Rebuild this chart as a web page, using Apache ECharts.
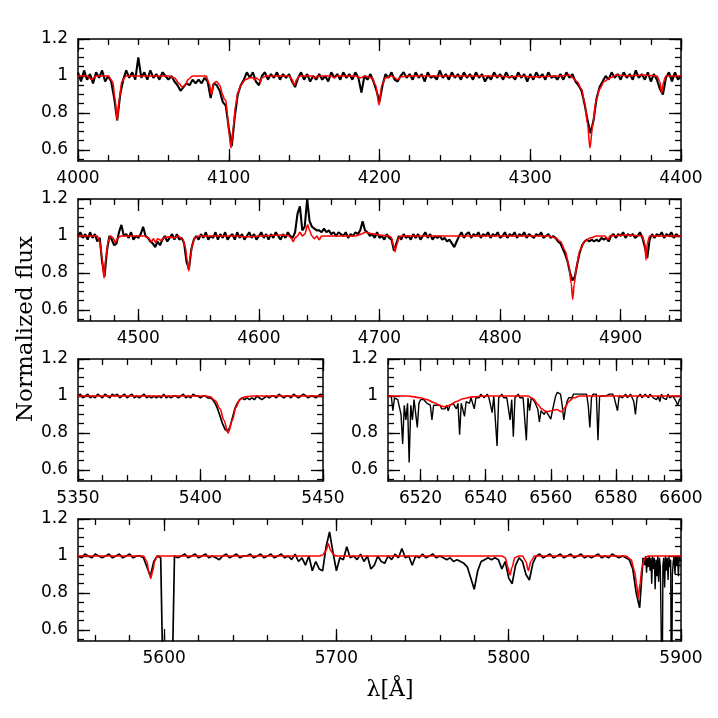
<!DOCTYPE html>
<html>
<head>
<meta charset="utf-8">
<script src="https://cdn.jsdelivr.net/npm/echarts@6/dist/echarts.min.js"></script>
<style>
  html, body { margin: 0; padding: 0; background: #fff; }
  #chart { width: 718px; height: 718px; }
</style>
</head>
<body>
<div id="chart"></div>
<script>
// y axis (same for every panel)
const yMin = 0.54, yMax = 1.2;
const yLabels = [0.6, 0.8, 1, 1.2];
const yMinor = [0.55, 0.6, 0.65, 0.7, 0.75, 0.8, 0.85, 0.9, 0.95, 1, 1.05, 1.1, 1.15, 1.2];

// x ticks per panel
const xLabelsP1 = [4000, 4100, 4200, 4300, 4400];
const xMinorP1 = [4000, 4020, 4040, 4060, 4080, 4100, 4120, 4140, 4160, 4180, 4200,
  4220, 4240, 4260, 4280, 4300, 4320, 4340, 4360, 4380, 4400];
const xLabelsP2 = [4500, 4600, 4700, 4800, 4900];
const xMinorP2 = [4460, 4480, 4500, 4520, 4540, 4560, 4580, 4600, 4620, 4640, 4660, 4680,
  4700, 4720, 4740, 4760, 4780, 4800, 4820, 4840, 4860, 4880, 4900, 4920, 4940];
const xLabelsP3 = [5350, 5400, 5450];
const xMinorP3 = [5350, 5360, 5370, 5380, 5390, 5400, 5410, 5420, 5430, 5440, 5450];
const xLabelsP4 = [6520, 6540, 6560, 6580, 6600];
const xMinorP4 = [6510, 6515, 6520, 6525, 6530, 6535, 6540, 6545, 6550, 6555, 6560,
  6565, 6570, 6575, 6580, 6585, 6590, 6595, 6600];
const xLabelsP5 = [5600, 5700, 5800, 5900];
const xMinorP5 = [5560, 5580, 5600, 5620, 5640, 5660, 5680, 5700, 5720, 5740, 5760,
  5780, 5800, 5820, 5840, 5860, 5880, 5900];

// observed spectrum (black), flux sampled every 2 A from 4000 A
const obsP1 = [
  1.02,0.97,1.03,0.98,1.01,0.96,1.02,0.99,1.03,0.97,
  1.00,0.97,0.88,0.76,0.90,0.98,1.03,0.99,1.02,0.98,
  1.10,0.99,1.02,0.98,1.03,0.99,1.01,0.98,1.02,1.00,
  0.98,1.00,0.97,0.95,0.92,0.94,0.96,0.95,0.98,0.96,
  0.98,0.96,0.99,0.97,0.88,0.96,0.95,0.92,0.86,0.84,
  0.72,0.62,0.78,0.90,0.95,0.98,1.02,0.99,1.02,0.97,
  0.95,1.00,1.02,0.98,1.01,0.99,1.02,0.98,1.01,0.99,
  1.01,0.97,0.94,0.99,1.02,0.98,1.01,0.97,1.00,0.98,
  1.01,0.98,1.00,0.97,1.02,0.99,1.01,0.98,1.02,0.99,
  1.01,0.98,1.02,0.99,0.91,1.00,0.98,1.01,0.97,0.92,
  0.86,0.95,1.01,0.99,1.02,0.98,0.97,1.00,1.02,0.99,
  1.01,0.98,1.02,0.99,1.01,0.97,1.02,0.99,1.00,0.98,
  1.03,0.99,1.01,0.98,1.02,0.99,1.01,0.98,1.02,0.99,
  1.01,0.98,1.02,0.99,1.01,0.97,1.00,0.98,1.02,0.99,
  1.01,0.98,1.02,0.99,1.00,0.98,1.02,0.99,1.01,0.97,
  1.01,0.98,1.02,0.99,1.01,0.98,1.02,0.99,1.00,0.98,
  1.01,0.98,1.02,0.99,1.01,0.97,0.95,0.92,0.85,0.76,
  0.69,0.76,0.88,0.94,0.97,1.00,0.98,1.02,0.99,1.01,
  0.98,1.02,0.99,1.01,0.98,1.03,0.99,1.01,0.98,1.02,
  0.97,1.01,0.98,0.93,0.90,0.99,1.02,0.97,1.02,0.98,
  1.00
];
// model fit (red), [wavelength, flux]
const fitP1 = [
  [4000,1.0],[4006,1.0],[4009,0.98],[4012,1.0],[4020,1.0],[4023,0.97],[4024.5,0.88],[4026,0.76],
  [4027.5,0.88],[4029,0.97],[4032,1.0],[4060,1.0],[4064,0.99],[4067,0.96],[4069,0.94],[4071,0.95],
  [4073,0.98],[4076,1.0],[4085,1.0],[4087,0.96],[4088.5,0.9],[4090,0.96],[4092,0.97],[4094,0.95],
  [4096,0.9],[4097,0.875],[4098,0.87],[4099,0.8],[4100,0.7],[4101.5,0.61],[4103,0.72],[4104.5,0.84],
  [4106,0.91],[4108,0.95],[4111,0.98],[4114,0.99],[4116,0.99],[4117,0.98],[4118,0.99],[4120,0.98],
  [4121,0.965],[4122,0.99],[4125,1.0],[4140,1.0],[4142,0.98],[4143.5,0.95],[4145,0.98],[4147,1.0],
  [4155,1.0],[4157,0.99],[4159,1.0],[4168,1.0],[4170,0.99],[4172,1.0],[4184,1.0],[4188,0.99],
  [4190,1.0],[4195,0.99],[4197.5,0.95],[4199.7,0.843],[4201.5,0.95],[4204,0.99],[4208,1.0],
  [4210,0.99],[4212,0.98],[4214,0.995],[4218,1.0],[4280,1.0],[4285,0.995],[4295,1.0],[4300,0.995],
  [4320,1.0],[4326,1.005],[4328,0.99],[4331,0.97],[4334,0.93],[4336,0.86],[4338,0.74],[4339.6,0.61],
  [4341.5,0.74],[4343.5,0.86],[4346,0.93],[4349,0.97],[4353,0.99],[4357,1.005],[4365,1.0],
  [4375,1.005],[4384,1.0],[4386,0.97],[4387.2,0.907],[4388.5,0.97],[4390,1.0],[4400,1.0]
];

// observed, every 2 A from 4450 A
const obsP2 = [
  1.00,1.02,0.99,1.01,0.98,1.02,0.99,1.01,0.97,0.99,
  0.86,0.78,0.92,1.00,0.98,0.95,0.96,1.02,1.06,1.00,
  1.01,0.99,1.02,0.98,1.00,0.99,1.01,1.05,1.00,0.99,
  0.97,0.96,0.94,0.97,0.95,0.98,1.00,0.97,0.99,1.01,
  0.98,1.01,0.98,0.99,0.96,0.86,0.82,0.93,0.98,1.00,
  0.98,1.01,0.99,1.02,0.98,1.00,0.99,1.02,0.98,1.01,
  0.99,1.02,0.98,1.00,1.01,0.98,1.02,0.99,1.01,0.98,
  1.00,1.02,0.99,1.01,0.98,1.00,1.02,0.99,1.01,0.98,
  1.01,0.99,1.02,1.00,0.98,1.01,0.99,1.02,1.00,0.99,
  1.02,1.12,1.16,1.03,1.05,1.20,1.08,1.05,1.04,1.03,
  1.03,1.02,1.04,1.02,1.03,1.01,1.02,1.00,1.02,1.01,
  1.00,1.02,0.99,1.01,1.00,1.02,1.01,1.03,1.08,1.03,
  1.02,1.00,1.01,0.99,1.02,0.99,1.00,0.98,1.01,0.99,
  0.98,0.92,0.96,1.00,0.98,1.01,0.99,1.00,0.98,1.01,
  0.99,1.01,0.98,1.00,1.02,0.99,1.01,0.98,1.00,0.99,
  1.00,0.98,0.99,0.97,0.98,0.96,0.94,0.97,1.00,1.02,
  0.99,1.01,1.02,0.99,1.01,1.00,1.02,0.99,1.01,1.00,
  1.02,0.99,1.01,1.00,1.02,0.99,1.00,1.02,0.99,1.01,
  1.00,1.02,0.99,1.01,1.00,1.02,0.99,1.01,1.00,0.99,
  1.01,1.00,1.02,0.99,1.00,1.01,0.99,1.00,0.99,0.97,
  0.96,0.93,0.90,0.86,0.80,0.76,0.78,0.85,0.91,0.95,
  0.97,0.98,0.97,0.98,0.97,0.98,0.97,0.99,0.98,0.99,
  0.97,1.00,1.01,0.99,1.01,1.00,1.02,0.99,1.01,1.00,
  1.01,0.99,1.00,1.02,0.99,0.94,0.88,0.98,1.01,0.99,
  1.01,1.00,1.02,0.99,1.01,1.00,1.02,0.99,1.01,1.00,
  1.00
];
const fitP2 = [
  [4450,1.0],[4466,1.0],[4468,0.97],[4470,0.88],[4471.6,0.771],[4473,0.88],[4475,0.97],[4477,1.0],
  [4479,0.99],[4481,0.965],[4483,0.99],[4486,1.0],[4505,1.0],[4508,0.99],[4511,0.97],[4512.5,0.985],
  [4514.5,0.965],[4516,0.985],[4519,0.975],[4521,0.99],[4525,0.995],[4530,0.99],[4533,1.0],
  [4537,0.98],[4539,0.94],[4540.5,0.87],[4541.8,0.812],[4543,0.88],[4545,0.96],[4547,0.99],
  [4550,1.0],[4580,1.0],[4590,0.995],[4600,1.0],[4620,1.005],[4625,1.0],[4627,0.985],[4628.5,0.97],
  [4630,0.99],[4632,1.0],[4634,1.02],[4636,1.0],[4638,1.01],[4640.5,1.06],[4642,1.03],[4644,1.0],
  [4646,0.985],[4648,1.0],[4650,0.98],[4652,1.0],[4680,1.0],[4685,1.01],[4688,1.02],[4692,1.015],
  [4696,1.01],[4700,1.005],[4708,1.0],[4710,0.99],[4711.5,0.95],[4712.9,0.915],[4714.2,0.95],
  [4716,0.99],[4718,1.0],[4840,1.0],[4846,0.99],[4850,0.97],[4854,0.92],[4857,0.84],[4859,0.74],
  [4860.2,0.658],[4861.5,0.74],[4863.5,0.84],[4866,0.92],[4870,0.97],[4875,0.99],[4880,1.0],
  [4887,1.0],[4889.5,0.98],[4891,1.0],[4905,1.005],[4918,1.0],[4920,0.96],[4921,0.87],[4922,0.96],
  [4924,1.0],[4950,1.0]
];

// observed, every 1 A from 5350 A
const obsP3 = [
  1.00,1.01,0.99,1.00,1.01,0.99,1.00,0.99,1.01,1.00,
  0.99,1.01,1.00,0.99,1.01,1.00,1.01,0.99,1.00,1.01,
  0.99,1.00,1.01,0.99,1.00,0.99,1.00,1.01,0.99,1.00,
  0.99,1.00,0.99,1.00,0.99,1.01,0.99,1.00,0.99,1.00,
  1.00,0.99,1.00,1.01,0.99,1.00,0.99,1.01,1.00,1.00,
  0.99,1.00,1.00,0.99,0.99,0.98,0.96,0.93,0.89,0.85,
  0.82,0.81,0.83,0.88,0.93,0.96,0.98,0.99,0.98,0.99,
  0.98,0.99,0.98,1.00,0.99,0.98,0.99,1.00,0.99,1.00,
  1.00,0.99,1.01,1.00,0.99,1.00,1.00,0.99,1.01,1.00,
  0.99,1.00,1.01,1.00,0.99,1.00,1.00,0.99,1.00,1.01,
  1.00
];
const fitP3 = [
  [5350,1.0],[5402,1.0],[5404,0.995],[5406,0.975],[5408,0.93],[5409.5,0.87],[5411.3,0.80],
  [5413,0.87],[5414.5,0.94],[5416,0.98],[5418,0.995],[5421,1.0],[5450,1.0]
];

// observed, every 0.5 A from 6510 A
const obsP4 = [
  1.00,0.99,1.00,0.92,0.99,1.00,0.98,0.99,0.90,0.74,
  0.95,0.87,0.96,0.64,0.95,0.87,0.98,0.97,0.83,0.96,
  0.98,0.97,0.98,0.97,0.96,0.97,0.95,0.87,0.95,0.96,
  0.95,0.94,0.95,0.93,0.94,0.93,0.95,0.92,0.95,0.94,
  0.96,0.95,0.93,0.96,0.79,0.96,0.97,0.89,0.97,0.98,
  0.96,0.99,0.98,0.93,0.99,1.00,0.99,1.01,1.00,0.99,
  1.00,1.01,0.99,1.00,0.91,1.00,0.99,0.73,0.99,1.00,
  1.01,0.99,1.00,0.99,1.00,0.87,0.98,0.78,0.99,1.00,
  1.01,0.99,1.00,0.99,1.00,0.76,0.99,0.92,0.99,0.98,
  0.97,0.95,0.93,0.86,0.92,0.91,0.90,0.92,0.91,0.89,
  0.875,0.92,0.96,1.00,1.02,1.03,1.01,0.95,0.87,0.93,
  0.97,0.99,1.00,0.99,1.01,1.02,1.01,1.02,1.01,1.02,
  1.01,1.00,1.01,0.95,0.83,0.99,1.01,1.00,1.01,0.76,
  1.00,1.01,1.00,1.01,1.00,0.99,1.01,1.00,1.01,0.99,
  1.00,0.92,1.00,1.01,0.99,1.00,1.01,0.99,1.00,1.01,
  0.99,0.97,0.90,0.99,1.00,1.01,0.99,1.00,1.01,1.00,
  0.99,1.01,1.00,0.99,1.00,0.98,1.00,0.97,1.01,0.99,
  1.00,0.98,1.01,0.99,0.98,1.00,0.99,0.97,0.95,0.98,
  0.99
];
const fitP4 = [
  [6510,1.0],[6516,1.0],[6520,0.99],[6522,0.98],[6524,0.965],[6526,0.948],[6527.5,0.942],
  [6529,0.95],[6531,0.97],[6533,0.985],[6536,0.995],[6540,1.0],[6553,1.0],[6554.6,0.985],
  [6556,0.955],[6557.2,0.93],[6558.7,0.915],[6560.3,0.92],[6561.8,0.927],[6563.3,0.915],
  [6564.5,0.94],[6565.5,0.97],[6567,0.99],[6569,1.0],[6600,1.0]
];

// observed, every 2 A from 5550 A to 5878 A
const obsP5 = [
  1.00,0.99,1.01,1.00,0.99,1.01,1.00,0.99,1.00,1.01,
  0.99,1.00,1.01,0.99,1.00,1.01,0.99,1.00,1.00,0.99,
  0.94,0.89,0.97,1.00,0.99,0.00,0.00,0.00,1.00,0.99,
  1.00,1.01,0.99,1.00,1.01,0.99,1.00,1.01,0.99,1.00,
  0.99,0.98,1.00,1.01,0.99,1.00,1.01,0.99,1.00,1.00,
  1.01,0.99,1.00,1.01,0.99,1.00,1.01,0.99,1.00,1.01,
  0.99,1.00,0.98,1.01,0.97,0.99,0.95,1.00,0.92,0.97,
  0.93,0.92,1.05,1.13,1.02,0.92,0.99,0.98,1.05,0.99,
  1.00,0.98,1.01,0.97,1.00,0.93,0.95,1.00,0.97,0.96,
  1.00,0.98,1.01,0.99,1.04,0.99,1.00,0.95,1.00,0.99,
  1.01,0.99,1.00,1.01,0.99,1.00,0.99,0.98,0.99,0.97,
  0.98,0.97,0.96,0.94,0.88,0.82,0.92,0.97,0.98,0.99,
  0.98,0.99,0.98,0.93,0.97,0.88,0.85,0.95,0.99,0.97,
  0.90,0.87,0.96,1.00,1.01,0.99,1.00,1.01,0.99,1.00,
  1.01,0.99,1.00,1.01,0.99,1.00,1.01,0.99,1.00,0.99,
  1.00,1.01,0.99,1.00,0.99,1.01,1.00,0.99,1.00,0.99,
  0.98,0.93,0.80,0.72,0.99
];
// observed telluric band, every 0.5 A from 5878 A
const obsP5Tail = [
  0.99,1.00,0.95,1.00,0.91,0.99,0.94,1.00,0.92,0.99,
  0.85,1.00,0.93,0.99,0.82,0.98,0.89,1.00,0.86,0.99,
  0.94,0.60,0.00,0.95,0.99,0.83,1.00,0.92,0.99,0.87,
  1.00,0.94,0.98,0.00,0.90,0.97,1.00,0.90,1.00,0.95,
  1.00,0.89,1.00,0.98,0.97
];
const fitP5 = [
  [5550,1.0],[5588,1.0],[5590,0.97],[5591,0.92],[5592.2,0.879],[5593.4,0.92],[5594.5,0.97],
  [5596,1.0],[5690,1.0],[5692,1.005],[5694,1.03],[5695.3,1.066],[5696.6,1.03],[5698.5,1.005],
  [5700,1.0],[5796,1.0],[5798,0.99],[5799.5,0.94],[5800.7,0.897],[5802,0.94],[5803.5,0.99],
  [5806,1.0],[5808,1.0],[5810,0.97],[5811.4,0.92],[5812.8,0.97],[5815,1.0],[5868,1.0],[5871,0.98],
  [5873,0.92],[5874.2,0.85],[5875.2,0.771],[5876.2,0.85],[5877.4,0.94],[5879,0.99],[5881,1.0],
  [5900,1.0]
];

const panels = [
  {rect: [78, 39, 603, 122], range: [4000, 4400], labels: xLabelsP1, minor: xMinorP1, fit: fitP1,
   obs: [{flux: obsP1, start: 4000, step: 2, width: 2.1}]},
  {rect: [78, 199, 603, 122], range: [4450, 4950], labels: xLabelsP2, minor: xMinorP2, fit: fitP2,
   obs: [{flux: obsP2, start: 4450, step: 2, width: 2.1}]},
  {rect: [78, 359, 245, 122], range: [5350, 5450], labels: xLabelsP3, minor: xMinorP3, fit: fitP3,
   obs: [{flux: obsP3, start: 5350, step: 1, width: 1.7}]},
  {rect: [388, 359, 293, 122], range: [6510, 6600], labels: xLabelsP4, minor: xMinorP4, fit: fitP4,
   obs: [{flux: obsP4, start: 6510, step: 0.5, width: 1.4}]},
  {rect: [78, 519, 603, 122], range: [5550, 5900], labels: xLabelsP5, minor: xMinorP5, fit: fitP5,
   obs: [{flux: obsP5, start: 5550, step: 2, width: 1.7}, {flux: obsP5Tail, start: 5878, step: 0.5, width: 1.4}]}
];

const frame = {show: true, onZero: false, lineStyle: {color: '#000', width: 1.5}};
const noLine = {show: false, onZero: false};
const tickStyle = {color: '#000', width: 1.3};
const labelStyle = {color: '#000', fontFamily: 'DejaVu Sans', fontSize: 17, formatter: v => String(v)};

const option = {
  animation: false,
  backgroundColor: '#fff',
  grid: [],
  xAxis: [],
  yAxis: [],
  series: [],
  graphic: [
    {type: 'text', x: 26, y: 329, rotation: Math.PI / 2,
     style: {text: 'Normalized flux', font: '23px "DejaVu Serif"', fill: '#000', align: 'center', verticalAlign: 'middle'}},
    {type: 'text', x: 390, y: 690,
     style: {text: 'λ[Å]', font: '22px "DejaVu Serif"', fill: '#000', align: 'center', verticalAlign: 'middle'}}
  ]
};

panels.forEach((p, k) => {
  const [left, top, width, height] = p.rect;
  // grid A holds the data and minor ticks, grid B lies on top with the major ticks
  option.grid.push({left, top, width, height}, {left, top, width, height});
  const gA = 2 * k, gB = 2 * k + 1;
  const xBase = {type: 'value', min: p.range[0], max: p.range[1], splitLine: {show: false}};
  const yBase = {type: 'value', min: yMin, max: yMax, splitLine: {show: false}};

  option.xAxis.push(
    {...xBase, gridIndex: gA, position: 'bottom', axisLine: frame,
     axisTick: {inside: true, length: 6, customValues: p.minor, lineStyle: tickStyle},
     axisLabel: {...labelStyle, customValues: p.labels, margin: 9}},
    {...xBase, gridIndex: gA, position: 'top', axisLine: frame,
     axisTick: {inside: true, length: 6, customValues: p.minor, lineStyle: tickStyle},
     axisLabel: {show: false}},
    {...xBase, gridIndex: gB, position: 'bottom', axisLine: noLine,
     axisTick: {inside: true, length: 12, customValues: p.labels, lineStyle: tickStyle},
     axisLabel: {show: false}},
    {...xBase, gridIndex: gB, position: 'top', axisLine: noLine,
     axisTick: {inside: true, length: 12, customValues: p.labels, lineStyle: tickStyle},
     axisLabel: {show: false}}
  );
  option.yAxis.push(
    {...yBase, gridIndex: gA, position: 'left', axisLine: frame,
     axisTick: {inside: true, length: 6, customValues: yMinor, lineStyle: tickStyle},
     axisLabel: {...labelStyle, customValues: yLabels, margin: 10}},
    {...yBase, gridIndex: gA, position: 'right', axisLine: frame,
     axisTick: {inside: true, length: 6, customValues: yMinor, lineStyle: tickStyle},
     axisLabel: {show: false}},
    {...yBase, gridIndex: gB, position: 'left', axisLine: noLine,
     axisTick: {inside: true, length: 12, customValues: yLabels, lineStyle: tickStyle},
     axisLabel: {show: false}},
    {...yBase, gridIndex: gB, position: 'right', axisLine: noLine,
     axisTick: {inside: true, length: 12, customValues: yLabels, lineStyle: tickStyle},
     axisLabel: {show: false}}
  );

  p.obs.forEach(seg => {
    option.series.push({
      type: 'line', xAxisIndex: 4 * k, yAxisIndex: 4 * k,
      data: seg.flux.map((f, i) => [seg.start + i * seg.step, f]),
      showSymbol: false, silent: true, clip: true, z: 3,
      lineStyle: {color: '#000', width: seg.width}
    });
  });
  option.series.push({
    type: 'line', xAxisIndex: 4 * k, yAxisIndex: 4 * k,
    data: p.fit,
    showSymbol: false, silent: true, clip: true, z: 4,
    smooth: 0.3, smoothMonotone: 'x',
    lineStyle: {color: '#ff0000', width: 1.6}
  });
});

const chart = echarts.init(document.getElementById('chart'));
chart.setOption(option);
</script>
</body>
</html>
